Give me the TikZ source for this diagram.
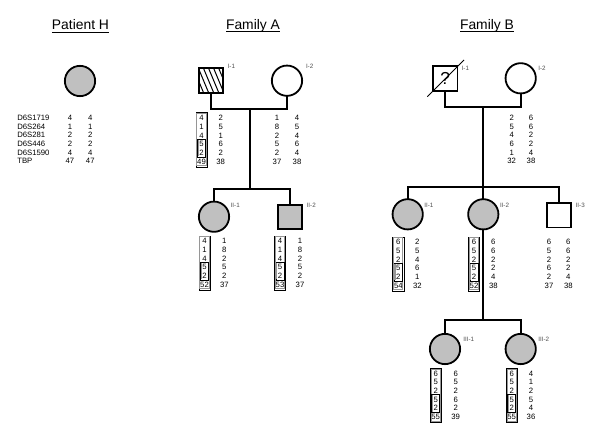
\documentclass[tikz,border=0pt]{standalone}
\usepackage{fontspec}
\setmainfont{Liberation Sans}
\definecolor{pgray}{RGB}{192,192,192}
\definecolor{hgray}{RGB}{150,150,150}
\definecolor{lblgray}{RGB}{80,80,80}
\newcommand\haplobox[6]{%
  \node[hap] (#1a) at (#2,#4) {#5};
  \node[hap] (#1b) at (#3,#4) {#6};
  \draw[line width=0.45pt] (#2-5.6,#4-27) rectangle (#2+5.6,#4+27);
  \draw[hgray, line width=0.8pt] (#2-4.6,#4-26) rectangle (#2+4.6,#4+26);
  \draw[line width=0.45pt] (#2-4.0,#4-0.8) rectangle (#2+4.0,#4+17.2);
  \draw[hgray, line width=1pt] (#2-3.2,#4-0.2) -- (#2-3.2,#4+16.6);
}
\newcommand\haploplain[6]{%
  \node[hap] (#1a) at (#2,#4) {#5};
  \node[hap] (#1b) at (#3,#4) {#6};
}
\newcommand\ultitle[3]{%
  \node[ttl, anchor=base] (#1) at (#2) {#3};
  \draw[line width=0.6pt] ([yshift=-1.6pt]#1.base west) -- ([yshift=-1.6pt]#1.base east);
}
\begin{document}
\begin{tikzpicture}[x=0.75pt,y=-0.75pt,
  every node/.style={inner sep=0pt, outer sep=0pt},
  sq/.style={draw, line width=1.35pt, rectangle, minimum size=18.2pt},
  circ/.style={draw, line width=1.35pt, circle, minimum size=22.7pt},
  aff/.style={fill=pgray},
  hatch/.style={path picture={
      \foreach \i in {-22,-18.2,...,14}
        \draw[line width=0.75pt] ([xshift=\i pt, yshift=12pt]path picture bounding box.center) -- ++(10pt,-24pt);}},
  lnk/.style={line width=1.4pt},
  hap/.style={font=\fontsize{5.8}{6.5}\selectfont, align=center},
  names/.style={font=\fontsize{5.8}{6.5}\selectfont, align=left, anchor=west},
  glabel/.style={font=\fontsize{4.7}{5}\selectfont, text=lblgray, anchor=west},
  ttl/.style={font=\fontsize{10.4}{12}\selectfont}]
\useasboundingbox (0,0) rectangle (600,435);
\fill[white] (0,0) rectangle (600,435);

% ---------- Patient H ----------
\ultitle{tH}{80.5,30}{Patient H}
\node[circ, aff] (H) at (80,81) {};
\node[names] (Hn) at (17.3,139.5) {D6S1719\\D6S264\\D6S281\\D6S446\\D6S1590\\TBP};
\node[hap] (Hv1) at (70,139.5) {4\\1\\2\\2\\4\\47};
\node[hap] (Hv2) at (90.3,139.5) {4\\1\\2\\2\\4\\47};

% ---------- Family A ----------
\ultitle{tA}{253,29.5}{Family A}
\node[sq, hatch] (A1) at (211,80.5) {};
\node[circ] (A2) at (287,80.7) {};
\node[glabel] (lA1) at (227.7,66.7) {I-1};
\node[glabel] (lA2) at (306,66.7) {I-2};
\coordinate (Am) at (250,109);
\coordinate (As) at (250,189);
\draw[lnk] (A1.south) |- (Am) -| (A2.south);
\draw[lnk] (Am) -- (As);
\node[circ, aff] (A3) at (214,216.7) {};
\node[sq, aff] (A4) at (290,217) {};
\node[glabel] (lA3) at (230.7,205) {II-1};
\node[glabel] (lA4) at (306.7,205) {II-2};
\draw[lnk] (A3.north) |- (As) -| (A4.north);
\haplobox{hA1}{201.5}{220.7}{139.8}{4\\1\\4\\5\\2\\49}{2\\5\\1\\6\\2\\38}
\haploplain{hA2}{277}{297}{139.8}{1\\8\\2\\5\\2\\37}{4\\5\\4\\6\\4\\38}
\haplobox{hA3}{204.5}{224.3}{262.8}{4\\1\\4\\5\\2\\52}{1\\8\\2\\5\\2\\37}
\haplobox{hA4}{280}{300}{262.8}{4\\1\\4\\5\\2\\53}{1\\8\\2\\5\\2\\37}

% ---------- Family B ----------
\ultitle{tB}{487,29.5}{Family B}
\node[sq, font=\fontsize{13}{14}\selectfont] (B1) at (445.3,78.5) {?};
\draw[line width=0.6pt] ([shift={(-18,18.2)}]B1.center) -- ([shift={(18.7,-18.5)}]B1.center);
\node[circ] (B2) at (520.7,78.3) {};
\node[glabel] (lB1) at (461.7,68.3) {I-1};
\node[glabel] (lB2) at (538.3,68.3) {I-2};
\coordinate (Bm) at (483.3,106.7);
\coordinate (Bs) at (483.3,186.7);
\draw[lnk] (B1.south) |- (Bm) -| (B2.south);
\draw[lnk] (Bm) -- (Bs);
\node[circ, aff] (B3) at (407.7,214.3) {};
\node[circ, aff] (B4) at (483.3,214.3) {};
\node[sq] (B5) at (558.8,215.3) {};
\node[glabel] (lB3) at (424.3,205) {II-1};
\node[glabel] (lB4) at (500,205) {II-2};
\node[glabel] (lB5) at (575.7,205) {II-3};
\draw[lnk] (B3.north) |- (Bs) -| (B5.north);
\draw[lnk] (Bs) -- (B4.north);
\coordinate (Bs2) at (483.3,320);
\draw[lnk] (B4.south) -- (Bs2);
\node[circ, aff] (B6) at (445,349) {};
\node[circ, aff] (B7) at (520.7,349) {};
\node[glabel] (lB6) at (463.3,339.3) {III-1};
\node[glabel] (lB7) at (538.3,339.3) {III-2};
\draw[lnk] (B6.north) |- (Bs2) -| (B7.north);
\haploplain{hB2}{511.7}{531}{139.5}{2\\5\\4\\6\\1\\32}{6\\6\\2\\2\\4\\38}
\haplobox{hB3}{398.3}{417.3}{263.8}{6\\5\\2\\5\\2\\54}{2\\5\\4\\6\\1\\32}
\haplobox{hB4}{474}{493.3}{263.8}{6\\5\\2\\5\\2\\52}{6\\6\\2\\2\\4\\38}
\haploplain{hB5}{549}{568.3}{263.8}{6\\5\\2\\6\\2\\37}{6\\6\\2\\2\\4\\38}
\haplobox{hB6}{435.7}{455.7}{395.3}{6\\5\\2\\5\\2\\55}{6\\5\\2\\6\\2\\39}
\haplobox{hB7}{511.7}{531}{395.3}{6\\5\\2\\5\\2\\55}{4\\1\\2\\5\\4\\36}
\end{tikzpicture}
\end{document}
